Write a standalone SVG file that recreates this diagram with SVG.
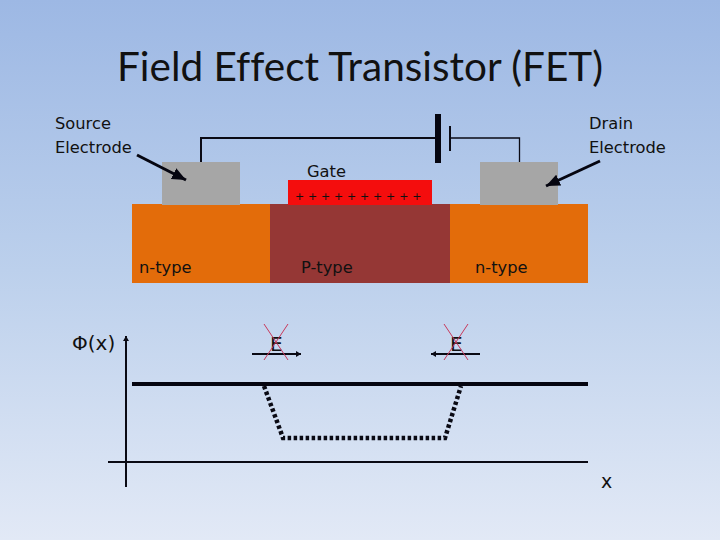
<svg xmlns="http://www.w3.org/2000/svg" width="720" height="540" viewBox="0 0 720 540">
<style>
text{font-family:"DejaVu Sans","Open Sans",sans-serif;fill:#111}
.l{font-size:16.300px}
.w{fill:none;stroke:#0a0a14;stroke-width:2}
.x{stroke:#c8385a;stroke-width:1;fill:none}
</style>
<defs>
<linearGradient id="bg" x1="0" y1="0" x2="0" y2="1"><stop offset="0" stop-color="#9db8e4"/><stop offset="0.5" stop-color="#bcd0ec"/><stop offset="1" stop-color="#e2e9f6"/></linearGradient>
<marker id="a" markerUnits="userSpaceOnUse" markerWidth="16" markerHeight="14" refX="14" refY="6" orient="auto"><path d="M0 0L14 6L0 12z" fill="#050510"/></marker>
<marker id="s" markerUnits="userSpaceOnUse" markerWidth="7" markerHeight="7" refX="5" refY="3" orient="auto"><path d="M0 0L5 3L0 6z" fill="#0a0a14"/></marker>
</defs>
<rect width="720" height="540" fill="url(#bg)"/>
<text x="360" y="81" text-anchor="middle" style="font-family:'Lato','Open Sans',sans-serif;font-size:40.500px;font-variant-ligatures:none">Field Effect Transistor (FET)</text>
<g id="n-left"><rect x="132" y="204" width="138" height="79" fill="#e36c0a"/><text class="l" x="139" y="273">n-type</text></g>
<g id="p-type"><rect x="270" y="204" width="180" height="79" fill="#953735"/><text class="l" x="301" y="273">P-type</text></g>
<g id="n-right"><rect x="450" y="204" width="138" height="79" fill="#e36c0a"/><text class="l" x="475" y="273">n-type</text></g>
<g id="source-pad"><rect x="162" y="162" width="78" height="43" fill="#a6a6a6"/></g>
<g id="drain-pad"><rect x="480" y="162" width="78" height="43" fill="#a6a6a6"/></g>
<g id="gate"><rect x="288" y="180" width="144" height="25" fill="#f40d0d"/><text x="307" y="177" class="l">Gate</text><text x="295" y="200" style="font-size:11px;letter-spacing:3.800px">++++++++++</text></g>
<g id="source-label"><text class="l" x="55" y="129">Source</text><text class="l" x="55" y="153">Electrode</text></g>
<g id="drain-label"><text class="l" x="589" y="129">Drain</text><text class="l" x="589" y="153">Electrode</text></g>
<g id="connectors">
<path class="w" d="M201 162V138H438"/>
<path d="M438 114V163" stroke="#050510" stroke-width="6" fill="none"/>
<path class="w" d="M450 126V151"/>
<path d="M450 138H519.500V162" fill="none" stroke="#0a0a14" stroke-width="1.300"/>
<path d="M137 155L186 180" stroke="#050510" stroke-width="3" marker-end="url(#a)"/>
<path d="M600 161L546 186" stroke="#050510" stroke-width="3" marker-end="url(#a)"/>
<path class="w" d="M126 487V336" marker-end="url(#s)"/>
<path class="w" d="M108 462H588"/>
<path d="M132 384H588" stroke="#050510" stroke-width="4" fill="none"/>
<path d="M264 386L283 438H445L461 386" stroke="#0a0a14" stroke-width="4.500" stroke-dasharray="3.500 2.500" fill="none"/>
<path class="w" d="M252 354H301" marker-end="url(#s)"/>
<path class="w" d="M480 354H431" marker-end="url(#s)"/>
</g>
<g id="field-left"><text x="270" y="351" style="font-size:20px">E</text><path class="x" d="M264 324L288 360M288 324L264 360"/></g>
<g id="field-right"><text x="450" y="351" style="font-size:20px">E</text><path class="x" d="M444 324L468 360M468 324L444 360"/></g>
<g id="axis-labels"><text x="72" y="350" style="font-size:20px">Φ(x)</text><text x="601" y="488" style="font-size:19px">x</text></g>
</svg>
